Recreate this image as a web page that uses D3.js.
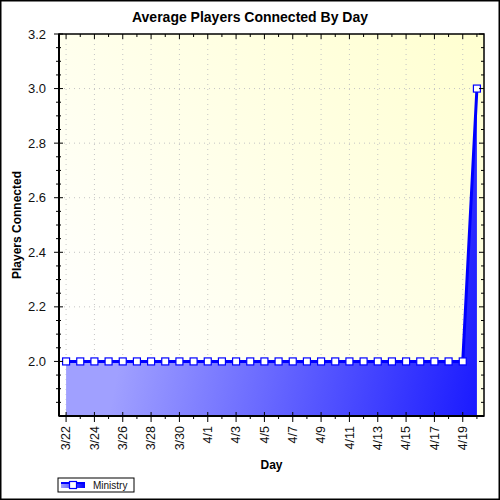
<!DOCTYPE html>
<html>
<head>
<meta charset="utf-8">
<script src="https://cdn.jsdelivr.net/npm/d3@7"></script>
<style>
  body { margin: 0; background: #fff; }
  text { font-family: "Liberation Sans", Arial, sans-serif; }
</style>
</head>
<body>
<div id="players"></div>
<script>
//chart data
var days = ["3/22","3/23","3/24","3/25","3/26","3/27","3/28","3/29","3/30","3/31",
            "4/1","4/2","4/3","4/4","4/5","4/6","4/7","4/8","4/9","4/10",
            "4/11","4/12","4/13","4/14","4/15","4/16","4/17","4/18","4/19","4/20"];
var ministry = [2.0,2.0,2.0,2.0,2.0,2.0,2.0,2.0,2.0,2.0,
                2.0,2.0,2.0,2.0,2.0,2.0,2.0,2.0,2.0,2.0,
                2.0,2.0,2.0,2.0,2.0,2.0,2.0,2.0,2.0,3.0];
var dayLabels = ["3/22","3/24","3/26","3/28","3/30","4/1","4/3","4/5","4/7","4/9",
                 "4/11","4/13","4/15","4/17","4/19"];
var yTicks = [2.0,2.2,2.4,2.6,2.8,3.0,3.2];
var yMinor = [1.85,1.9,1.95,2.05,2.1,2.15,2.25,2.3,2.35,2.45,2.5,2.55,2.65,2.7,2.75,2.85,2.9,2.95,3.05,3.1,3.15];

var width = 500, height = 500;
var margin = {top: 34, right: 16, bottom: 84, left: 59};
var w = width - margin.left - margin.right;
var h = height - margin.top - margin.bottom;

var svg = d3.select("div#players").append("svg")
    .attr("width", width)
    .attr("height", height);

//gradients
var defs = svg.append("defs");
var bg = defs.append("linearGradient").attr("id", "bg")
    .attr("x1", 0).attr("y1", 0.8).attr("x2", 1).attr("y2", 0);
bg.append("stop").attr("offset", 0).attr("stop-color", "#ffffff");
bg.append("stop").attr("offset", 1).attr("stop-color", "#ffffd0");

var fill = defs.append("linearGradient").attr("id", "areafill")
    .attr("gradientUnits", "userSpaceOnUse")
    .attr("x1", margin.left).attr("y1", margin.top + 300)
    .attr("x2", margin.left + w).attr("y2", margin.top + h);
fill.append("stop").attr("offset", 0).attr("stop-color", "#a0a0ff");
fill.append("stop").attr("offset", 1).attr("stop-color", "#0000ff");

var legfill = defs.append("linearGradient").attr("id", "legfill");
legfill.append("stop").attr("offset", 0).attr("stop-color", "#a0a0ff");
legfill.append("stop").attr("offset", 1).attr("stop-color", "#0000ff");

//outer border
svg.append("rect")
    .attr("x", 0.75).attr("y", 0.75)
    .attr("width", 498.5).attr("height", 498.5)
    .attr("fill", "#fff").attr("stroke", "#000").attr("stroke-width", 1.5);

var g = svg.append("g")
    .attr("transform", "translate(" + margin.left + "," + margin.top + ")");

//scales
var x = d3.scalePoint().domain(days).range([0, w]).padding(0.5);
var y = d3.scaleLinear().domain([1.8, 3.2]).range([h, 0]);

//plot background
g.append("rect")
    .attr("width", w).attr("height", h)
    .attr("fill", "url(#bg)");

//grid lines
g.selectAll(".vgrid").data(dayLabels).enter().append("line")
    .attr("x1", function(d) { return x(d); })
    .attr("x2", function(d) { return x(d); })
    .attr("y1", 0).attr("y2", h)
    .attr("stroke", "#c4c4c4").attr("stroke-dasharray", "1,4");
g.selectAll(".hgrid").data(yTicks.slice(0, 6)).enter().append("line")
    .attr("x1", 0).attr("x2", w)
    .attr("y1", function(d) { return y(d); })
    .attr("y2", function(d) { return y(d); })
    .attr("stroke", "#c4c4c4").attr("stroke-dasharray", "1,4");

//area and line
var data = days.map(function(d, i) { return {day: d, value: ministry[i]}; });
var area = d3.area()
    .x(function(d) { return x(d.day); })
    .y0(h)
    .y1(function(d) { return y(d.value); });
var line = d3.line()
    .x(function(d) { return x(d.day); })
    .y(function(d) { return y(d.value); });

g.append("path").datum(data)
    .attr("d", area)
    .attr("fill", "url(#areafill)");
g.append("path").datum(data)
    .attr("d", line)
    .attr("fill", "none")
    .attr("stroke", "#0000ff")
    .attr("stroke-width", 3);

g.selectAll(".marker").data(data).enter().append("rect")
    .attr("x", function(d) { return x(d.day) - 3.5; })
    .attr("y", function(d) { return y(d.value) - 3.5; })
    .attr("width", 7).attr("height", 7)
    .attr("fill", "#fff").attr("stroke", "#0000ff").attr("stroke-width", 1.2);

//frame
g.append("rect")
    .attr("width", w).attr("height", h)
    .attr("fill", "none").attr("stroke", "#000").attr("stroke-width", 1.5);
g.append("line").attr("x1", 0).attr("x2", 0).attr("y1", 0).attr("y2", h)
    .attr("stroke", "#000").attr("stroke-width", 2);
g.append("line").attr("x1", 0).attr("x2", w).attr("y1", h).attr("y2", h)
    .attr("stroke", "#000").attr("stroke-width", 2);

//y-axis ticks, left and right
function isMajorX(d) { return dayLabels.indexOf(d) >= 0; }
g.selectAll(".ytl").data(yTicks).enter().append("line")
    .attr("x1", -5).attr("x2", 4)
    .attr("y1", function(d) { return y(d); }).attr("y2", function(d) { return y(d); })
    .attr("stroke", "#000");
g.selectAll(".yml").data(yMinor).enter().append("line")
    .attr("x1", -3).attr("x2", 2)
    .attr("y1", function(d) { return y(d); }).attr("y2", function(d) { return y(d); })
    .attr("stroke", "#000");
g.selectAll(".ytr").data(yTicks).enter().append("line")
    .attr("x1", w - 5).attr("x2", w)
    .attr("y1", function(d) { return y(d); }).attr("y2", function(d) { return y(d); })
    .attr("stroke", "#000");
g.selectAll(".ymr").data(yMinor).enter().append("line")
    .attr("x1", w - 3).attr("x2", w)
    .attr("y1", function(d) { return y(d); }).attr("y2", function(d) { return y(d); })
    .attr("stroke", "#000");

//x-axis ticks, bottom and top
g.selectAll(".xtb").data(days).enter().append("line")
    .attr("x1", function(d) { return x(d); }).attr("x2", function(d) { return x(d); })
    .attr("y1", function(d) { return isMajorX(d) ? h - 4 : h; })
    .attr("y2", function(d) { return isMajorX(d) ? h + 6 : h + 3; })
    .attr("stroke", "#000");
g.selectAll(".xtt").data(days).enter().append("line")
    .attr("x1", function(d) { return x(d); }).attr("x2", function(d) { return x(d); })
    .attr("y1", 0)
    .attr("y2", function(d) { return isMajorX(d) ? 5 : 3; })
    .attr("stroke", "#000");

//tick labels
g.selectAll(".ylab").data(yTicks).enter().append("text")
    .attr("x", -13)
    .attr("y", function(d) { return y(d); })
    .attr("dy", "0.35em")
    .attr("text-anchor", "end")
    .attr("font-size", "13px")
    .attr("fill", "#111")
    .text(function(d) { return d3.format(".1f")(d); });
g.selectAll(".xlab").data(dayLabels).enter().append("text")
    .attr("transform", function(d) { return "translate(" + x(d) + "," + (h + 10) + ") rotate(-90)"; })
    .attr("dy", "0.35em")
    .attr("text-anchor", "end")
    .attr("font-size", "12.5px")
    .attr("fill", "#111")
    .text(function(d) { return d; });

//titles
svg.append("text")
    .attr("x", 250).attr("y", 22)
    .attr("text-anchor", "middle")
    .attr("font-size", "14px").attr("font-weight", "bold")
    .text("Average Players Connected By Day");
svg.append("text")
    .attr("transform", "translate(21," + (margin.top + h / 2) + ") rotate(-90)")
    .attr("text-anchor", "middle")
    .attr("font-size", "12px").attr("font-weight", "bold")
    .text("Players Connected");
svg.append("text")
    .attr("x", margin.left + w / 2).attr("y", 469)
    .attr("text-anchor", "middle")
    .attr("font-size", "12px").attr("font-weight", "bold")
    .text("Day");

//legend
var leg = svg.append("g").attr("transform", "translate(58,478)");
leg.append("rect")
    .attr("width", 76).attr("height", 14)
    .attr("fill", "#fff").attr("stroke", "#000");
leg.append("rect")
    .attr("x", 3).attr("y", 4).attr("width", 24).attr("height", 6)
    .attr("fill", "url(#legfill)");
leg.append("line")
    .attr("x1", 3).attr("x2", 27).attr("y1", 5).attr("y2", 5)
    .attr("stroke", "#0000ff").attr("stroke-width", 2);
leg.append("rect")
    .attr("x", 11.5).attr("y", 3.5).attr("width", 7).attr("height", 7)
    .attr("fill", "#fff").attr("stroke", "#0000ff").attr("stroke-width", 1.2);
leg.append("text")
    .attr("x", 35).attr("y", 10.5)
    .attr("font-size", "10px")
    .attr("fill", "#111")
    .text("Ministry");
</script>
</body>
</html>
